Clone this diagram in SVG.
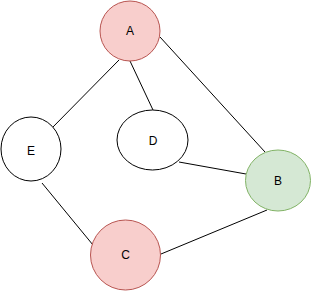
<svg xmlns="http://www.w3.org/2000/svg" width="311" height="291" viewBox="0 0 311 291">
<style>
.red{fill:#f8cecc;stroke:#b85450;stroke-width:1}
.green{fill:#d5e8d4;stroke:#82b366;stroke-width:1}
.plain{fill:#ffffff;stroke:#000000;stroke-width:1}
.edge{stroke:#000000;stroke-width:1;fill:none}
text{font-family:"Liberation Sans",Arial,sans-serif;font-size:12px;fill:#000000;text-anchor:middle;dominant-baseline:central}
</style>
<rect width="311" height="291" fill="#ffffff"/>
<g id="connectors">
<line class="edge" x1="119" y1="60" x2="51" y2="129"/>
<line class="edge" x1="130" y1="61" x2="153" y2="110"/>
<line class="edge" x1="160" y1="37" x2="265" y2="152"/>
<line class="edge" x1="179" y1="162" x2="246" y2="174"/>
<line class="edge" x1="42" y1="183" x2="93" y2="245"/>
<line class="edge" x1="161" y1="254" x2="267" y2="210"/>
</g>
<g id="node-A"><ellipse class="red" cx="130" cy="31" rx="30" ry="30"/><text x="130" y="31">A</text></g>
<g id="node-E"><ellipse class="plain" cx="31" cy="149" rx="30" ry="32"/><text x="31" y="151">E</text></g>
<g id="node-D"><ellipse class="plain" cx="152.5" cy="140" rx="35.5" ry="30"/><text x="153" y="141">D</text></g>
<g id="node-B"><ellipse class="green" cx="278" cy="180.5" rx="32.5" ry="30.5"/><text x="278" y="181">B</text></g>
<g id="node-C"><ellipse class="red" cx="125.5" cy="255" rx="35" ry="35"/><text x="125.5" y="255">C</text></g>
</svg>
